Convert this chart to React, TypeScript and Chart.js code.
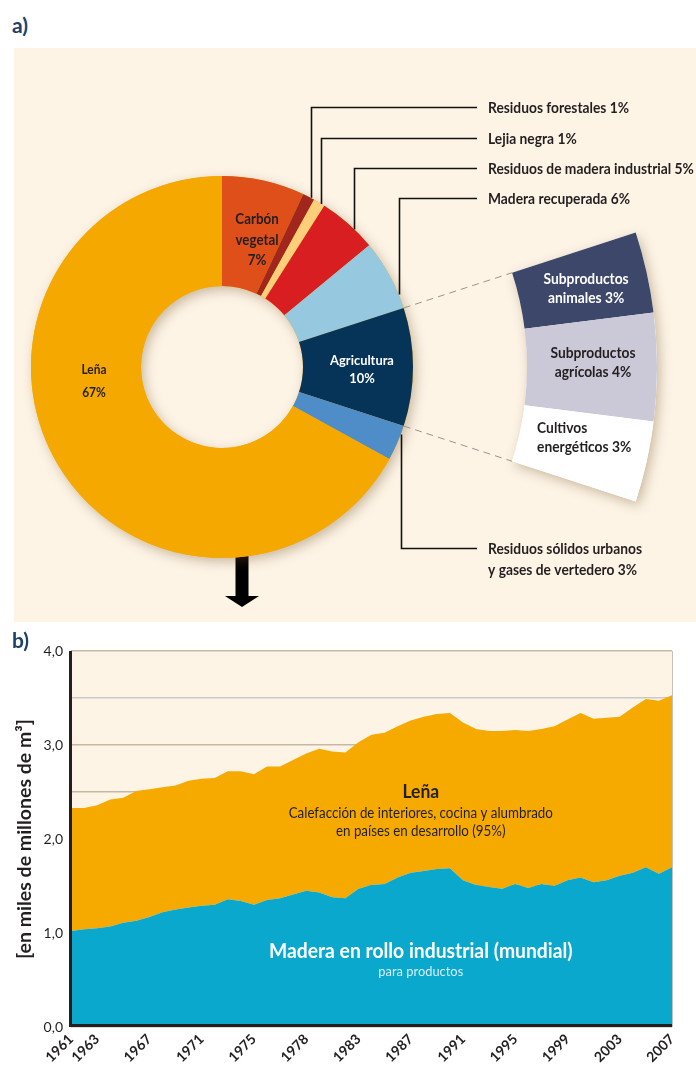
import { useEffect, useRef } from "react";
import { Chart, registerables } from "chart.js";

Chart.register(...registerables);

const INK = "#231F20";
const PANEL_BG = "#FDF4E6";
const FONT = "Lato, 'Liberation Sans', Arial, sans-serif";
const SQUEEZE = 0.92;

// ---------- Panel a: sources of wood energy (%) ----------
const sourceLabels = [
  "Carbón\nvegetal",
  "Residuos forestales",
  "Lejia negra",
  "Residuos de madera industrial",
  "Madera recuperada",
  "Agricultura",
  "Residuos sólidos urbanos\ny gases de vertedero",
  "Leña",
];
const sourceShares = [7, 1, 1, 5, 6, 10, 3, 67];
const sourceColors = ["#DE4F1A", "#A1271E", "#FECF7A", "#D81E20", "#96C8E0", "#063358", "#4E8DC7", "#F5A900"];

const AGRI_INDEX = 5;
const agriLabels = ["Subproductos\nanimales", "Subproductos\nagrícolas", "Cultivos\nenergéticos"];
const agriShares = [3, 4, 3];
const agriColors = ["#3C4769", "#CBC8D7", "#FFFFFF"];
const agriTextColors = ["#FFFFFF", INK, INK];

// ---------- Panel b: wood removals (billion m3) ----------
const years = [
  1961, 1962, 1963, 1964, 1965, 1966, 1967, 1968, 1969, 1970,
  1971, 1972, 1973, 1974, 1975, 1976, 1977, 1978, 1979, 1980,
  1981, 1982, 1983, 1984, 1985, 1986, 1987, 1988, 1989, 1990,
  1991, 1992, 1993, 1994, 1995, 1996, 1997, 1998, 1999, 2000,
  2001, 2002, 2003, 2004, 2005, 2006, 2007,
];
const industrialRoundwood = [
  1.02, 1.04, 1.05, 1.07, 1.11, 1.13, 1.17, 1.22, 1.25, 1.27,
  1.29, 1.30, 1.36, 1.34, 1.30, 1.35, 1.37, 1.41, 1.45, 1.43,
  1.38, 1.37, 1.47, 1.51, 1.52, 1.59, 1.64, 1.66, 1.68, 1.69,
  1.56, 1.51, 1.49, 1.47, 1.52, 1.48, 1.52, 1.50, 1.56, 1.59,
  1.54, 1.56, 1.61, 1.64, 1.70, 1.63, 1.70,
];
const fuelwood = [
  1.31, 1.29, 1.31, 1.35, 1.33, 1.38, 1.36, 1.33, 1.32, 1.35,
  1.35, 1.35, 1.36, 1.38, 1.39, 1.42, 1.40, 1.43, 1.46, 1.53,
  1.55, 1.55, 1.56, 1.60, 1.61, 1.61, 1.62, 1.64, 1.65, 1.65,
  1.68, 1.66, 1.66, 1.68, 1.64, 1.67, 1.65, 1.70, 1.71, 1.75,
  1.74, 1.73, 1.69, 1.76, 1.79, 1.84, 1.83,
];
const xTickYears = [1961, 1963, 1967, 1971, 1975, 1979, 1983, 1987, 1991, 1995, 1999, 2003, 2007];
const xTickTexts = ["1961", "1963", "1967", "1971", "1975", "1978", "1983", "1987", "1991", "1995", "1999", "2003", "2007"];
const yMin = 0;
const yMax = 4;
const yStep = 0.5;

// ---------- annotation layout ----------
const innerLabels = [
  { idx: 0, dx: 35, dy: -127, lh: 20.5, size: 14.5, color: INK },
  { idx: 5, dx: 140, dy: 2, lh: 18, size: 14, color: "#FFFFFF" },
  { idx: 7, dx: -128, dy: 14, lh: 23, size: 13, color: INK },
];
const callouts = [
  { idx: 1, frac: 0.67, dy: -260 },
  { idx: 2, frac: 0.72, dy: -229 },
  { idx: 3, frac: 0.64, dy: -199 },
  { idx: 4, frac: 0.8, dy: -169 },
  { idx: 6, frac: 0.25, dy: 181 },
];
const agriLabelOffsets = [
  { dx: 3, dy: 2, align: "center" as CanvasTextAlign },
  { dx: 1, dy: -4, align: "center" as CanvasTextAlign },
  { dx: -46, dy: -10, align: "left" as CanvasTextAlign },
];

function drawLines(
  ctx: CanvasRenderingContext2D,
  lines: string[],
  x: number,
  y: number,
  lh: number,
  font: string,
  color: string,
  align: CanvasTextAlign,
  firstAtY = false
) {
  ctx.save();
  ctx.font = font;
  ctx.fillStyle = color;
  ctx.textAlign = align;
  ctx.textBaseline = "middle";
  const y0 = firstAtY ? y : y - ((lines.length - 1) * lh) / 2;
  lines.forEach((t, i) => {
    ctx.save();
    ctx.translate(x, y0 + i * lh);
    ctx.scale(SQUEEZE, 1);
    ctx.fillText(t, 0, 0);
    ctx.restore();
  });
  ctx.restore();
}

const donutPlugin = {
  id: "donutDecor",
  beforeDatasetsDraw(chart: any) {
    const ctx: CanvasRenderingContext2D = chart.ctx;
    const main = chart.getDatasetMeta(2).data as any[];
    const agri = chart.getDatasetMeta(0).data as any[];
    const cx = main[0].x;
    const cy = main[0].y;
    const R = main[0].outerRadius;
    const r = main[0].innerRadius;
    ctx.save();
    // arrow towards panel b
    const ax = cx + 20;
    ctx.fillStyle = "#000";
    ctx.fillRect(ax - 6.5, cy + R - 30, 13, 30 + 40);
    ctx.beginPath();
    ctx.moveTo(ax - 17, cy + 229);
    ctx.lineTo(ax + 17, cy + 229);
    ctx.lineTo(ax, cy + 240);
    ctx.closePath();
    ctx.fill();
    // soft shadows
    ctx.shadowColor = "rgba(110,75,30,0.35)";
    ctx.shadowBlur = 12;
    ctx.shadowOffsetX = 3;
    ctx.shadowOffsetY = 4;
    ctx.fillStyle = sourceColors[7];
    ctx.beginPath();
    ctx.arc(cx, cy, R, 0, Math.PI * 2);
    ctx.moveTo(cx + r, cy);
    ctx.arc(cx, cy, r, 0, Math.PI * 2, true);
    ctx.fill();
    const s = agri[0].startAngle;
    const e = agri[agri.length - 1].endAngle;
    ctx.fillStyle = "#FFFFFF";
    ctx.beginPath();
    ctx.arc(cx, cy, agri[0].outerRadius, s, e);
    ctx.arc(cx, cy, agri[0].innerRadius, e, s, true);
    ctx.closePath();
    ctx.fill();
    ctx.restore();
  },
  afterDatasetsDraw(chart: any) {
    const ctx: CanvasRenderingContext2D = chart.ctx;
    const main = chart.getDatasetMeta(2).data as any[];
    const agri = chart.getDatasetMeta(0).data as any[];
    const cx = main[0].x;
    const cy = main[0].y;
    const R = main[0].outerRadius;
    ctx.save();
    // dashed connectors to the exploded agriculture ring
    ctx.strokeStyle = "#9A948C";
    ctx.lineWidth = 1;
    ctx.setLineDash([7, 5]);
    [agri[0].startAngle, agri[agri.length - 1].endAngle].forEach((a) => {
      ctx.beginPath();
      ctx.moveTo(cx + Math.cos(a) * R, cy + Math.sin(a) * R);
      ctx.lineTo(cx + Math.cos(a) * agri[0].innerRadius, cy + Math.sin(a) * agri[0].innerRadius);
      ctx.stroke();
    });
    ctx.setLineDash([]);
    // callouts
    ctx.strokeStyle = "#111";
    ctx.lineWidth = 1.6;
    callouts.forEach((c) => {
      const arc = main[c.idx];
      const a = arc.startAngle + c.frac * (arc.endAngle - arc.startAngle);
      const px = Math.round(cx + Math.cos(a) * R) + 0.5;
      const py = cy + Math.sin(a) * R;
      const ly = Math.round(cy + c.dy) + 0.5;
      ctx.beginPath();
      ctx.moveTo(px, py);
      ctx.lineTo(px, ly);
      ctx.lineTo(cx + 255, ly);
      ctx.stroke();
      const lines = (sourceLabels[c.idx] + " " + sourceShares[c.idx] + "%").split("\n");
      drawLines(ctx, lines, cx + 266, ly + 1, 21, `bold 15px ${FONT}`, INK, "left", true);
    });
    // labels inside the doughnut
    innerLabels.forEach((l) => {
      const lines = sourceLabels[l.idx].split("\n").concat([sourceShares[l.idx] + "%"]);
      drawLines(ctx, lines, cx + l.dx, cy + l.dy, l.lh, `bold ${l.size}px ${FONT}`, l.color, "center");
    });
    // labels of the agriculture breakdown
    agri.forEach((arc: any, i: number) => {
      const p = arc.getCenterPoint();
      const o = agriLabelOffsets[i];
      const lines = (agriLabels[i] + " " + agriShares[i] + "%").split("\n");
      drawLines(ctx, lines, p.x + o.dx, p.y + o.dy, 19, `bold 15px ${FONT}`, agriTextColors[i], o.align);
    });
    ctx.restore();
  },
};

const areaPlugin = {
  id: "areaDecor",
  beforeDraw(chart: any) {
    const { ctx, chartArea: a } = chart;
    ctx.save();
    ctx.fillStyle = PANEL_BG;
    ctx.fillRect(a.left, a.top, a.right - a.left, a.bottom - a.top);
    ctx.restore();
  },
  afterDatasetsDraw(chart: any) {
    const { ctx, chartArea: a } = chart;
    const ys = chart.scales.y;
    ctx.save();
    ctx.strokeStyle = "#C4C0BA";
    ctx.lineWidth = 1;
    ctx.beginPath();
    ctx.moveTo(a.right + 0.5, a.top);
    ctx.lineTo(a.right + 0.5, a.bottom);
    ctx.stroke();
    ctx.strokeStyle = INK;
    ctx.lineWidth = 3;
    ctx.beginPath();
    ctx.moveTo(a.left - 0.5, a.top);
    ctx.lineTo(a.left - 0.5, a.bottom - 1.5);
    ctx.lineTo(a.right, a.bottom - 1.5);
    ctx.stroke();
    ctx.restore();
    const tx = a.left + (a.right - a.left) * 0.582;
    drawLines(ctx, ["Leña"], tx, ys.getPixelForValue(2.5), 0, `bold 19px ${FONT}`, INK, "center");
    drawLines(
      ctx,
      ["Calefacción de interiores, cocina y alumbrado", "en países en desarrollo (95%)"],
      tx,
      ys.getPixelForValue(2.175),
      18,
      `14.5px ${FONT}`,
      INK,
      "center"
    );
    drawLines(ctx, ["Madera en rollo industrial (mundial)"], tx, ys.getPixelForValue(0.81), 0, `bold 21px ${FONT}`, "#FFFFFF", "center");
    drawLines(ctx, ["para productos"], tx, ys.getPixelForValue(0.59), 0, `14px ${FONT}`, "#D6EEF6", "center");
  },
};

export default function App() {
  const donutRef = useRef<HTMLCanvasElement>(null);
  const areaRef = useRef<HTMLCanvasElement>(null);

  useEffect(() => {
    const total = sourceShares.reduce((s, v) => s + v, 0);
    const agriStart = (sourceShares.slice(0, AGRI_INDEX).reduce((s, v) => s + v, 0) / total) * 360;
    const agriSpan = (sourceShares[AGRI_INDEX] / total) * 360;

    const donut = new Chart(donutRef.current as HTMLCanvasElement, {
      type: "doughnut",
      data: {
        labels: sourceLabels,
        datasets: [
          {
            data: agriShares,
            backgroundColor: agriColors,
            borderWidth: 0,
            rotation: agriStart,
            circumference: agriSpan,
            weight: 130,
          } as any,
          { data: [1], backgroundColor: "rgba(0,0,0,0)", borderWidth: 0, weight: 114 } as any,
          { data: sourceShares, backgroundColor: sourceColors, borderWidth: 0, weight: 110 } as any,
        ],
      },
      options: {
        responsive: false,
        animation: false,
        events: [],
        cutout: 81,
        layout: { padding: { left: 0, top: 0, bottom: 0, right: 80 } },
        plugins: { legend: { display: false }, tooltip: { enabled: false } },
      } as any,
      plugins: [donutPlugin],
    });

    const area = new Chart(areaRef.current as HTMLCanvasElement, {
      type: "line",
      data: {
        labels: years.map(String),
        datasets: [
          {
            label: "Madera en rollo industrial (mundial)",
            data: industrialRoundwood,
            backgroundColor: "#0BA8CE",
            borderWidth: 0,
            pointRadius: 0,
            fill: "origin",
            tension: 0,
          },
          {
            label: "Leña",
            data: fuelwood,
            backgroundColor: "#F6AA00",
            borderWidth: 0,
            pointRadius: 0,
            fill: "-1",
            tension: 0,
          },
        ],
      },
      options: {
        responsive: false,
        animation: false,
        events: [],
        layout: { padding: { top: 21, right: 24, left: 0, bottom: 0 } },
        plugins: { legend: { display: false }, tooltip: { enabled: false } },
        scales: {
          x: {
            type: "category",
            offset: false,
            afterFit: (s: any) => {
              s.height = 38;
            },
            grid: { display: false, drawTicks: false },
            border: { display: false },
            ticks: {
              autoSkip: false,
              minRotation: 45,
              maxRotation: 45,
              padding: 4,
              color: INK,
              font: { family: FONT, size: 14, weight: "bold" },
              callback: (_v: any, i: number) => {
                const k = xTickYears.indexOf(years[i]);
                return k < 0 ? "" : xTickTexts[k];
              },
            },
          },
          y: {
            stacked: true,
            min: yMin,
            max: yMax,
            afterFit: (s: any) => {
              s.width = 71;
            },
            border: { display: false },
            grid: {
              drawTicks: false,
              lineWidth: 1.6,
              color: (c: any) => (c.tick && c.tick.value === 3.5 ? "#C9C9C9" : "#C8B7A3"),
            },
            ticks: {
              stepSize: yStep,
              padding: 8,
              color: INK,
              font: { family: FONT, size: 14 },
              callback: (v: any) => (Number.isInteger(v) ? Number(v).toFixed(1).replace(".", ",") : ""),
            },
            title: {
              display: true,
              text: "[en miles de millones de m³]",
              color: INK,
              font: { family: FONT, size: 19.5, weight: "bold" },
              padding: { top: 13, bottom: 0 },
            },
          },
        },
      } as any,
      plugins: [areaPlugin],
    });

    return () => {
      donut.destroy();
      area.destroy();
    };
  }, []);

  return (
    <div style={{ position: "absolute", left: 0, top: 0, width: 696, height: 1065, background: "#FFFFFF", overflow: "hidden" }}>
      <div style={{ position: "absolute", left: 12, top: 15, fontFamily: FONT, fontWeight: 700, fontSize: 21, lineHeight: "20px", color: "#1D416B" }}>a)</div>
      <div style={{ position: "absolute", left: 14, top: 48, width: 682, height: 574, background: PANEL_BG, overflow: "hidden" }}>
        <canvas ref={donutRef} width={950} height={870} style={{ position: "absolute", left: -227, top: -116, display: "block" }} />
      </div>
      <canvas ref={areaRef} width={696} height={435} style={{ position: "absolute", left: 0, top: 630, display: "block" }} />
      <div style={{ position: "absolute", left: 12, top: 630, fontFamily: FONT, fontWeight: 700, fontSize: 21, lineHeight: "20px", color: "#1D416B" }}>b)</div>
    </div>
  );
}
